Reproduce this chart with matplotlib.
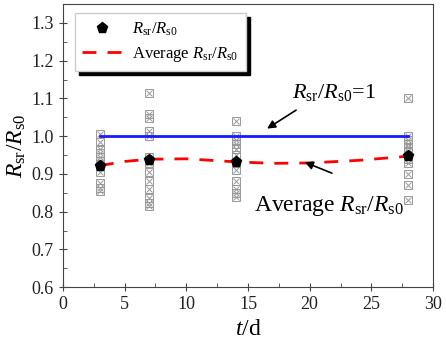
import matplotlib
matplotlib.use('Agg')
import matplotlib.pyplot as plt
from matplotlib.ticker import MultipleLocator

plt.rcParams['font.family'] = 'Liberation Serif'
plt.rcParams['mathtext.fontset'] = 'custom'
plt.rcParams['mathtext.rm'] = 'Liberation Serif'
plt.rcParams['mathtext.it'] = 'Liberation Serif:italic'

# scatter of individual samples
days = [3, 7, 14, 28]
samples = {
    3: [1.005, 0.985, 0.965, 0.955, 0.945, 0.935, 0.925, 0.905, 0.875, 0.862, 0.855],
    7: [1.115, 1.06, 1.048, 1.015, 1.0, 0.945, 0.93, 0.905, 0.88, 0.86, 0.835, 0.822, 0.815],
    14: [1.04, 1.0, 0.99, 0.98, 0.965, 0.95, 0.93, 0.91, 0.88, 0.86, 0.85, 0.84],
    28: [1.1, 1.0, 0.99, 0.98, 0.97, 0.96, 0.94, 0.93, 0.9, 0.87, 0.832],
}
mean_vals = [0.922, 0.938, 0.932, 0.947]

# red average curve
avg_t = [3, 5, 7, 10, 14, 17, 20, 24, 28]
avg_v = [0.922, 0.933, 0.939, 0.940, 0.932, 0.928, 0.929, 0.936, 0.947]

ref_t = [3, 28]
ref_v = [1.0, 1.0]

fig = plt.figure(figsize=(4.46, 3.39), dpi=100)
ax = fig.add_axes([0.141, 0.153, 0.830, 0.835])

for d in days:
    ax.plot([d] * len(samples[d]), samples[d], ls='none', marker='s', ms=5.5,
            mfc='none', mec='#999999', mew=0.7, zorder=2)
    ax.plot([d] * len(samples[d]), samples[d], ls='none', marker='x', ms=4.5,
            mec='#999999', mew=0.7, zorder=2)

ax.plot(ref_t, ref_v, color='#1a1aff', lw=2, zorder=3)
ax.plot(avg_t, avg_v, color='#ff0000', lw=2, ls=(0, (5, 4)), zorder=3,
        label=r'Average $R_{\rm sr}/R_{\rm s0}$')
ax.plot(days, mean_vals, ls='none', marker='p', ms=8, color='black', zorder=4,
        label=r'$R_{\rm sr}/R_{\rm s0}$')

ax.set_xlim(0, 30)
ax.set_ylim(0.6, 1.35)
ax.xaxis.set_major_locator(MultipleLocator(5))
ax.xaxis.set_minor_locator(MultipleLocator(2.5))
ax.yaxis.set_major_locator(MultipleLocator(0.1))
ax.yaxis.set_minor_locator(MultipleLocator(0.05))
ax.tick_params(which='major', direction='inout', length=6, labelsize=13,
               color='#444444', labelcolor='#222222')
ax.tick_params(which='minor', direction='in', length=3, color='#444444')
for s in ax.spines.values():
    s.set_color('#444444')

ax.set_xlabel(r'$t$/d', fontsize=17)
ax.set_ylabel(r'$R_{\rm sr}/R_{\rm s0}$', fontsize=17, labelpad=2)

handles, labels = ax.get_legend_handles_labels()
leg = ax.legend(handles[::-1], labels[::-1], loc='upper left', fontsize=12,
                bbox_to_anchor=(0.032, 0.968), fancybox=False,
                shadow={'color': 'black', 'alpha': 1, 'ox': 3, 'oy': -3},
                framealpha=1, edgecolor='#cccccc', handlelength=2.4, handletextpad=0.6,
                borderpad=0.45, labelspacing=0.4, borderaxespad=0)

ax.text(22.0, 1.115, r'$R_{\rm sr}/R_{\rm s0}$=1', fontsize=16, ha='center', va='center')
ax.annotate('', xy=(16.55, 1.02), xytext=(18.9, 1.069),
            arrowprops=dict(arrowstyle='-|>', color='black', lw=1.2, shrinkA=0, shrinkB=0,
                            mutation_scale=12))
ax.text(21.6, 0.816, r'Average $R_{\rm sr}/R_{\rm s0}$', fontsize=17, ha='center', va='center')
ax.annotate('', xy=(19.6, 0.931), xytext=(21.8, 0.902),
            arrowprops=dict(arrowstyle='-|>', color='black', lw=1.2, shrinkA=0, shrinkB=0,
                            mutation_scale=12))

fig.savefig('out.png', dpi=100)
